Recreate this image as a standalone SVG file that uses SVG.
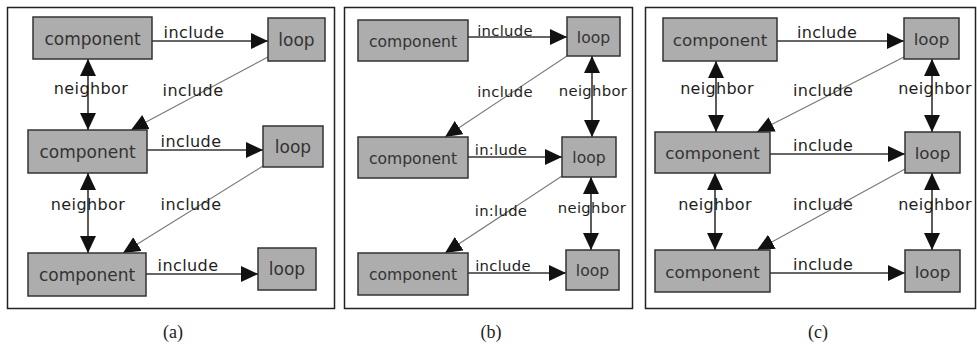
<svg xmlns="http://www.w3.org/2000/svg" width="977" height="347" viewBox="0 0 977 347">
<style>
.frame{fill:#fff;stroke:#222;stroke-width:1.5}
.node rect{fill:#adadad;stroke:#333;stroke-width:1.5}
.node text{font-family:"DejaVu Sans",sans-serif;fill:#333;text-anchor:middle}
.na text{font-size:17px}
.nb text{font-size:15.6px}
.nc text{font-size:16.7px}
.lbl{font-family:"DejaVu Sans",sans-serif;fill:#1e1e1e;text-anchor:middle}
.la{font-size:16px;letter-spacing:0.4px}
.lb{font-size:14.8px;letter-spacing:0.3px}
.lc{font-size:16px;letter-spacing:0.3px}
.solid{stroke:#333;stroke-width:1.6;fill:none}
.diag{stroke:#777;stroke-width:1.1;fill:none}
.cap{font-family:"Liberation Serif",serif;font-size:18px;fill:#222;text-anchor:middle}
</style>
<defs>
<marker id="ah" markerUnits="userSpaceOnUse" markerWidth="19" markerHeight="17" refX="17" refY="8" orient="auto-start-reverse" viewBox="0 0 19 17">
<path d="M0,0 L17,8 L0,16 z" fill="#111"/>
</marker>
</defs>
<rect class="frame" x="7.5" y="7.5" width="327" height="301"/>
<rect class="frame" x="344.5" y="7.5" width="288" height="301"/>
<rect class="frame" x="645.5" y="7.5" width="330" height="301"/>

<g id="connectors">
<line class="solid" x1="152" y1="41" x2="268" y2="41" marker-end="url(#ah)"/>
<line class="solid" x1="88" y1="59" x2="88" y2="130" marker-start="url(#ah)" marker-end="url(#ah)"/>
<line class="diag" x1="268" y1="57" x2="131" y2="130" marker-end="url(#ah)"/>
<line class="solid" x1="147" y1="150" x2="263" y2="150" marker-end="url(#ah)"/>
<line class="solid" x1="88" y1="173" x2="88" y2="253" marker-start="url(#ah)" marker-end="url(#ah)"/>
<line class="diag" x1="263" y1="166" x2="123" y2="253" marker-end="url(#ah)"/>
<line class="solid" x1="146" y1="274" x2="258" y2="274" marker-end="url(#ah)"/>

<line class="solid" x1="468" y1="37" x2="567" y2="37" marker-end="url(#ah)"/>
<line class="diag" x1="567" y1="56" x2="445" y2="137" marker-end="url(#ah)"/>
<line class="solid" x1="592" y1="56" x2="592" y2="137" marker-start="url(#ah)" marker-end="url(#ah)"/>
<line class="solid" x1="468" y1="157" x2="562" y2="157" marker-end="url(#ah)"/>
<line class="diag" x1="562" y1="176" x2="445" y2="253" marker-end="url(#ah)"/>
<line class="solid" x1="591" y1="177" x2="591" y2="250" marker-start="url(#ah)" marker-end="url(#ah)"/>
<line class="solid" x1="468" y1="273" x2="566" y2="273" marker-end="url(#ah)"/>

<line class="solid" x1="777" y1="41" x2="904" y2="41" marker-end="url(#ah)"/>
<line class="solid" x1="716" y1="61" x2="716" y2="132" marker-start="url(#ah)" marker-end="url(#ah)"/>
<line class="diag" x1="904" y1="57" x2="757" y2="132" marker-end="url(#ah)"/>
<line class="solid" x1="932" y1="59" x2="932" y2="132" marker-start="url(#ah)" marker-end="url(#ah)"/>
<line class="solid" x1="770" y1="154" x2="905" y2="154" marker-end="url(#ah)"/>
<line class="solid" x1="715" y1="173" x2="715" y2="250" marker-start="url(#ah)" marker-end="url(#ah)"/>
<line class="diag" x1="905" y1="169" x2="757" y2="250" marker-end="url(#ah)"/>
<line class="solid" x1="932" y1="173" x2="932" y2="250" marker-start="url(#ah)" marker-end="url(#ah)"/>
<line class="solid" x1="770" y1="273" x2="905" y2="273" marker-end="url(#ah)"/>
</g>

<g id="labels">
<text class="lbl la" x="194" y="38">include</text>
<text class="lbl la" x="91" y="94">neighbor</text>
<text class="lbl la" x="193" y="96">include</text>
<text class="lbl la" x="191" y="147">include</text>
<text class="lbl la" x="88" y="210">neighbor</text>
<text class="lbl la" x="191" y="210">include</text>
<text class="lbl la" x="188" y="271">include</text>

<text class="lbl lb" x="505" y="36">include</text>
<text class="lbl lb" x="505" y="97">include</text>
<text class="lbl lb" x="593" y="96">neighbor</text>
<text class="lbl lb" x="501" y="155">in:lude</text>
<text class="lbl lb" x="501" y="216">in:lude</text>
<text class="lbl lb" x="592" y="213">neighbor</text>
<text class="lbl lb" x="503" y="271">include</text>

<text class="lbl lc" x="827" y="38">include</text>
<text class="lbl lc" x="717" y="94">neighbor</text>
<text class="lbl lc" x="823" y="96">include</text>
<text class="lbl lc" x="935" y="94">neighbor</text>
<text class="lbl lc" x="823" y="151">include</text>
<text class="lbl lc" x="715" y="210">neighbor</text>
<text class="lbl lc" x="823" y="210">include</text>
<text class="lbl lc" x="935" y="210">neighbor</text>
<text class="lbl lc" x="823" y="270">include</text>
</g>

<g id="a-c1" class="node na"><rect x="33" y="17" width="119" height="42"/><text x="92.5" y="45">component</text></g>
<g id="a-l1" class="node na"><rect x="268" y="18" width="57" height="43"/><text x="296.5" y="46">loop</text></g>
<g id="a-c2" class="node na"><rect x="28" y="130" width="119" height="43"/><text x="87.5" y="158">component</text></g>
<g id="a-l2" class="node na"><rect x="263" y="126" width="60" height="41"/><text x="293" y="153">loop</text></g>
<g id="a-c3" class="node na"><rect x="28" y="253" width="118" height="43"/><text x="87" y="281">component</text></g>
<g id="a-l3" class="node na"><rect x="258" y="248" width="58" height="42"/><text x="287" y="275">loop</text></g>

<g id="b-c1" class="node nb"><rect x="358" y="20" width="110" height="41"/><text x="413" y="47">component</text></g>
<g id="b-l1" class="node nb"><rect x="567" y="17" width="53" height="39"/><text x="593.5" y="43">loop</text></g>
<g id="b-c2" class="node nb"><rect x="358" y="137" width="110" height="41"/><text x="413" y="164">component</text></g>
<g id="b-l2" class="node nb"><rect x="562" y="137" width="54" height="40"/><text x="589" y="163">loop</text></g>
<g id="b-c3" class="node nb"><rect x="358" y="253" width="110" height="42"/><text x="413" y="280">component</text></g>
<g id="b-l3" class="node nb"><rect x="566" y="250" width="53" height="40"/><text x="592.5" y="276">loop</text></g>

<g id="c-c1" class="node nc"><rect x="663" y="18" width="114" height="43"/><text x="720" y="46">component</text></g>
<g id="c-l1" class="node nc"><rect x="904" y="18" width="55" height="41"/><text x="931.5" y="45">loop</text></g>
<g id="c-c2" class="node nc"><rect x="655" y="132" width="115" height="41"/><text x="712.5" y="159">component</text></g>
<g id="c-l2" class="node nc"><rect x="905" y="132" width="55" height="41"/><text x="932.5" y="159">loop</text></g>
<g id="c-c3" class="node nc"><rect x="655" y="250" width="115" height="42"/><text x="712.5" y="278">component</text></g>
<g id="c-l3" class="node nc"><rect x="905" y="250" width="55" height="42"/><text x="932.5" y="278">loop</text></g>

<text class="cap" x="173" y="338">(a)</text>
<text class="cap" x="491" y="338">(b)</text>
<text class="cap" x="818" y="338">(c)</text>
</svg>
